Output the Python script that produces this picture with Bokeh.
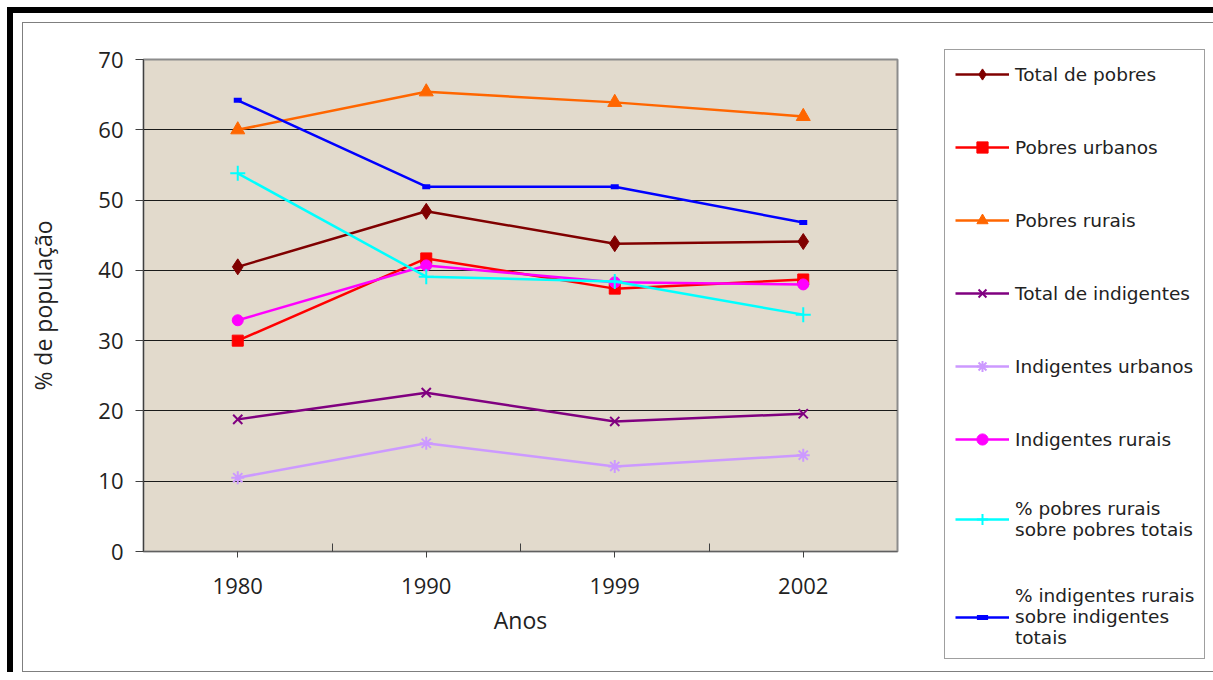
from bokeh.plotting import figure
from bokeh.models import FixedTicker, Legend, LegendItem, Range1d
from bokeh.layouts import column
from bokeh.embed import file_html
from bokeh.resources import INLINE

# ---- data -------------------------------------------------------------
years = ["1980", "1990", "1999", "2002"]
total_pobres = [40.5, 48.4, 43.8, 44.1]
pobres_urbanos = [30.0, 41.7, 37.4, 38.7]
pobres_rurais = [60.0, 65.4, 63.9, 61.9]
total_indigentes = [18.8, 22.6, 18.5, 19.6]
indigentes_urbanos = [10.5, 15.4, 12.1, 13.7]
indigentes_rurais = [32.9, 40.7, 38.3, 38.0]
pct_pobres_rurais = [53.8, 39.1, 38.4, 33.7]
pct_indigentes_rurais = [64.2, 51.9, 51.9, 46.8]
y_ticks = [0, 10, 20, 30, 40, 50, 60, 70]

series_names = [
    "Total de pobres",
    "Pobres urbanos",
    "Pobres rurais",
    "Total de indigentes",
    "Indigentes urbanos",
    "Indigentes rurais",
    "% pobres rurais\nsobre pobres totais",
    "% indigentes rurais\nsobre indigentes\ntotais",
]
series_values = [total_pobres, pobres_urbanos, pobres_rurais, total_indigentes,
                 indigentes_urbanos, indigentes_rurais, pct_pobres_rurais,
                 pct_indigentes_rurais]
series_colors = ["#800000", "#FF0000", "#FF6600", "#800080",
                 "#CC99FF", "#FF00FF", "#00FFFF", "#0000FF"]
series_markers = ["diamond", "square", "triangle", "x",
                  "asterisk", "circle", "cross", "dash"]
marker_sizes = [16, 11, 14, 13, 13, 11, 15, 8]

xs = list(range(len(years)))

# ---- figure -----------------------------------------------------------
FRAME_W, FRAME_H = 754, 492
p = figure(frame_width=FRAME_W, frame_height=FRAME_H,
           output_backend="svg", toolbar_location=None,
           x_range=Range1d(-0.5, len(years) - 0.5), y_range=Range1d(0, 70),
           min_border_left=120, min_border_right=311,
           min_border_top=36, min_border_bottom=120)

p.background_fill_color = "#E2DACC"
p.border_fill_color = "white"
p.outline_line_color = "#8C8C8C"
p.outline_line_width = 2

FONT = "Open Sans"

# y axis
p.yaxis.ticker = FixedTicker(ticks=y_ticks)
p.yaxis.axis_label = "% de população"
p.yaxis.axis_label_text_font = FONT
p.yaxis.axis_label_text_font_size = "23px"
p.yaxis.axis_label_text_font_style = "normal"
p.yaxis.axis_label_text_color = "#222222"
p.yaxis.axis_label_standoff = 36
p.yaxis.major_label_text_font = FONT
p.yaxis.major_label_text_font_size = "22px"
p.yaxis.major_label_text_color = "#222222"
p.yaxis.major_label_standoff = 12
p.yaxis.major_tick_out = 8
p.yaxis.major_tick_in = 0
p.yaxis.minor_tick_line_color = None
p.yaxis.axis_line_color = "#404040"
p.yaxis.major_tick_line_color = "#404040"

# x axis
p.xaxis.ticker = FixedTicker(ticks=xs, minor_ticks=[i + 0.5 for i in xs[:-1]])
p.xaxis.major_label_overrides = {i: y for i, y in zip(xs, years)}
p.xaxis.axis_label = "Anos"
p.xaxis.axis_label_text_font = FONT
p.xaxis.axis_label_text_font_size = "23px"
p.xaxis.axis_label_text_font_style = "normal"
p.xaxis.axis_label_text_color = "#222222"
p.xaxis.axis_label_standoff = 7
p.xaxis.major_label_text_font = FONT
p.xaxis.major_label_text_font_size = "22px"
p.xaxis.major_label_text_color = "#222222"
p.xaxis.major_label_standoff = 20
p.xaxis.major_tick_out = 6
p.xaxis.major_tick_in = 0
p.xaxis.minor_tick_in = 8
p.xaxis.minor_tick_out = 0
p.xaxis.axis_line_color = "#606060"
p.xaxis.major_tick_line_color = "#404040"
p.xaxis.minor_tick_line_color = "#404040"

p.xgrid.grid_line_color = None
p.ygrid.grid_line_color = "#1A1A1A"
p.ygrid.grid_line_width = 1

items = []
for name, vals, col, mk, ms in zip(series_names, series_values, series_colors,
                                   series_markers, marker_sizes):
    r_line = p.line(xs, vals, line_color=col, line_width=2.5)
    if mk == "dash":
        r_pt = p.scatter(xs, vals, marker=mk, size=ms, line_color=col,
                         line_width=5)
    elif mk in ("x", "asterisk", "cross"):
        r_pt = p.scatter(xs, vals, marker=mk, size=ms, line_color=col,
                         line_width=2)
    else:
        r_pt = p.scatter(xs, vals, marker=mk, size=ms, fill_color=col,
                         line_color=col)
    items.append(LegendItem(label=name, renderers=[r_line, r_pt]))

legend = Legend(items=items, location=(47, -108))
legend.label_text_font = "DejaVu Sans"
legend.label_text_font_size = "18.5px"
legend.label_text_color = "#222222"
legend.label_text_line_height = 1.3
legend.glyph_width = 54
legend.glyph_height = 28
legend.label_height = 20
legend.label_standoff = 6
legend.spacing = 45
legend.padding = 10
legend.margin = 0
legend.border_line_color = "#404040"
legend.border_line_width = 1
legend.background_fill_color = "white"
legend.background_fill_alpha = 1
p.add_layout(legend, "right")

inner = column(p, styles={"border": "1px solid #7F7F7F"})
outer = column(inner, styles={"border-top": "6px solid black",
                              "border-left": "6px solid black",
                              "margin-top": "7px", "margin-left": "7px",
                              "padding": "9px 0px 0px 9px"})

open("out.html", "w").write(file_html(outer, INLINE))
